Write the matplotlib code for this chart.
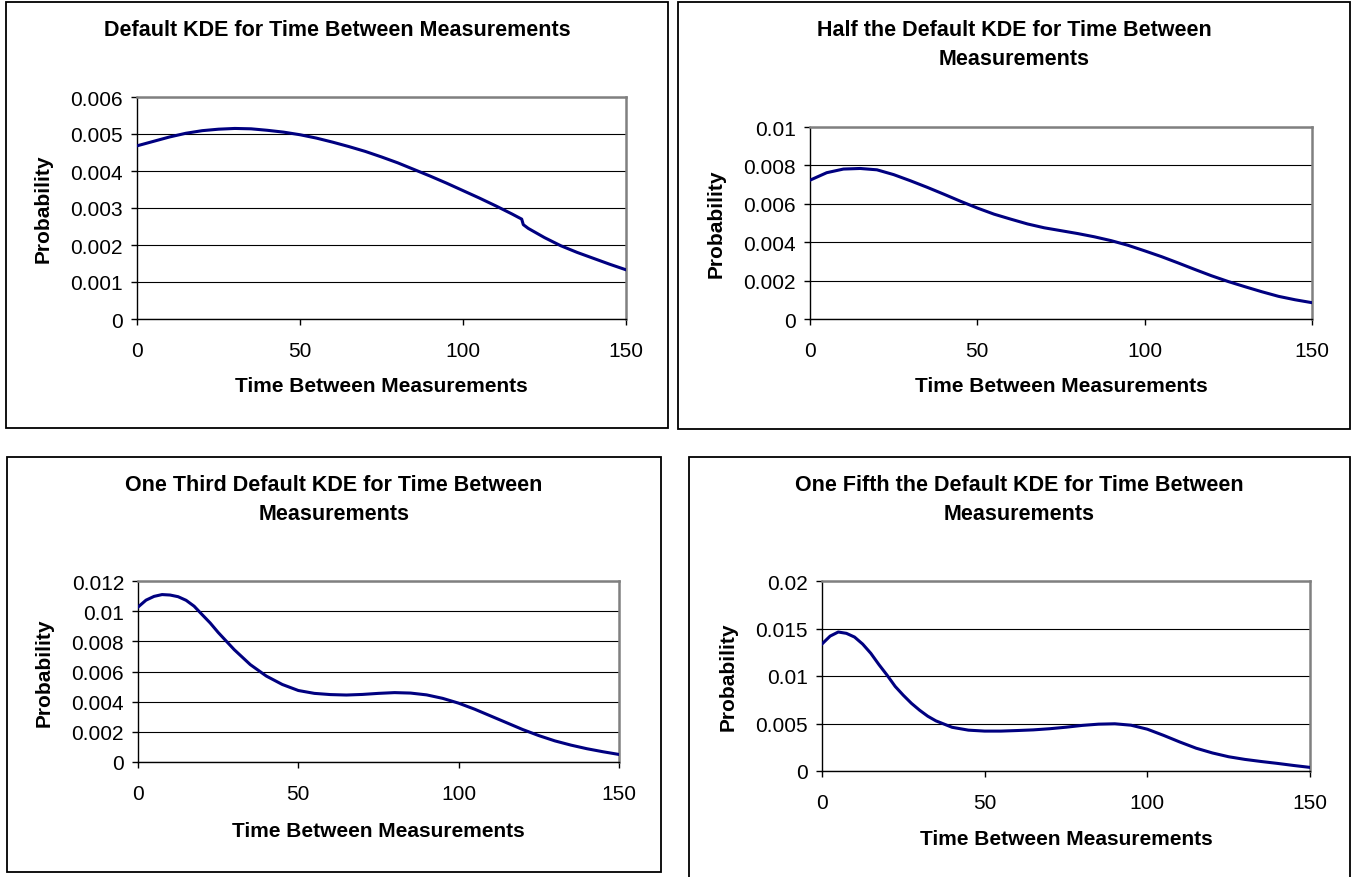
import matplotlib
matplotlib.use('Agg')
import matplotlib.pyplot as plt
from matplotlib.patches import Rectangle

plt.rcParams['font.family'] = ['Liberation Sans', 'DejaVu Sans']

W, H = 1353, 878

# values, probability in units of 1e-3
x_default = [0, 5, 10, 15, 20, 25, 30, 35, 40, 45, 50, 55, 60, 65, 70, 75, 80,
             85, 90, 95, 100, 105, 110, 115, 118, 118.5, 120, 125, 130, 135,
             140, 145, 150]
y_default = [4.68, 4.80, 4.92, 5.02, 5.09, 5.13, 5.15, 5.14, 5.10, 5.05, 4.98,
             4.89, 4.78, 4.66, 4.53, 4.38, 4.22, 4.04, 3.86, 3.67, 3.47, 3.27,
             3.06, 2.84, 2.70, 2.55, 2.45, 2.20, 1.98, 1.80, 1.64, 1.48, 1.33]

x_half = [0, 5, 10, 15, 20, 25, 30, 35, 40, 45, 50, 55, 60, 65, 70, 75, 80,
          85, 90, 95, 100, 105, 110, 115, 120, 125, 130, 135, 140, 145, 150]
y_half = [7.23, 7.62, 7.81, 7.84, 7.77, 7.52, 7.20, 6.86, 6.50, 6.13, 5.78,
          5.46, 5.20, 4.95, 4.75, 4.60, 4.45, 4.28, 4.08, 3.84, 3.55, 3.25,
          2.92, 2.58, 2.25, 1.95, 1.68, 1.42, 1.18, 1.00, 0.85]

x_third = [0, 2.5, 5, 7.5, 10, 12.5, 15, 17.5, 20, 22.5, 25, 30, 35, 40, 45,
           50, 55, 60, 65, 70, 75, 80, 85, 90, 95, 100, 105, 110, 115, 120,
           125, 130, 135, 140, 145, 150]
y_third = [10.27, 10.73, 10.98, 11.1, 11.07, 10.96, 10.72, 10.33, 9.77, 9.22,
           8.59, 7.45, 6.46, 5.70, 5.14, 4.74, 4.55, 4.47, 4.44, 4.48, 4.55,
           4.6, 4.57, 4.45, 4.22, 3.9, 3.5, 3.05, 2.6, 2.15, 1.75, 1.4, 1.12,
           0.88, 0.68, 0.5]

x_fifth = [0, 2.5, 5, 7.5, 10, 12.5, 15, 17.5, 20, 22.5, 25, 27.5, 30, 32.5,
           35, 40, 45, 50, 55, 60, 65, 70, 75, 80, 85, 90, 95, 100, 105, 110,
           115, 120, 125, 130, 135, 140, 145, 150]
y_fifth = [13.37, 14.2, 14.63, 14.49, 14.1, 13.36, 12.39, 11.2, 10.09, 8.9,
           7.97, 7.12, 6.4, 5.77, 5.28, 4.6, 4.3, 4.2, 4.2, 4.26, 4.33, 4.45,
           4.61, 4.8, 4.93, 4.97, 4.82, 4.4, 3.75, 3.05, 2.4, 1.9, 1.5, 1.22,
           1.0, 0.8, 0.58, 0.38]

titles = ['Default KDE for Time Between Measurements',
          'Half the Default KDE for Time Between\nMeasurements',
          'One Third Default KDE for Time Between\nMeasurements',
          'One Fifth the Default KDE for Time Between\nMeasurements']
yticks_list = [[0, 0.001, 0.002, 0.003, 0.004, 0.005, 0.006],
               [0, 0.002, 0.004, 0.006, 0.008, 0.01],
               [0, 0.002, 0.004, 0.006, 0.008, 0.01, 0.012],
               [0, 0.005, 0.01, 0.015, 0.02]]
yticklabels_list = [['0', '0.001', '0.002', '0.003', '0.004', '0.005', '0.006'],
                    ['0', '0.002', '0.004', '0.006', '0.008', '0.01'],
                    ['0', '0.002', '0.004', '0.006', '0.008', '0.01', '0.012'],
                    ['0', '0.005', '0.01', '0.015', '0.02']]
xticks = [0, 50, 100, 150]

series = [(x_default, y_default), (x_half, y_half),
          (x_third, y_third), (x_fifth, y_fifth)]

# layout in pixels: box (l, t, r, b), axes (l, t, r, b)
boxes = [(6, 3, 668, 429), (678, 3, 1350, 430), (7, 458, 661, 873), (689, 458, 1350, 880)]
axes_px = [(137, 98, 626, 320), (810, 128, 1312, 320), (138, 582, 619, 763), (822, 582, 1310, 772)]
title_y = [30, 45, 500, 500]
xlabel_y = [387, 387, 832, 840]

fig = plt.figure(figsize=(W / 100, H / 100), dpi=100)


def fx(px):
    return px / W


def fy(py):
    return 1 - py / H


for i in range(4):
    bl, bt, br, bb = boxes[i]
    fig.patches.append(Rectangle((fx(bl), fy(bb)), fx(br - bl), (bb - bt) / H,
                                 transform=fig.transFigure, fill=False,
                                 edgecolor='black', linewidth=1.3, zorder=0))
    al, at, ar, ab = axes_px[i]
    ax = fig.add_axes([fx(al), fy(ab), fx(ar - al), (ab - at) / H])
    xs, ys = series[i]
    ax.plot(xs, [v / 1000 for v in ys], color='#000080', linewidth=2.2,
            solid_joinstyle='round', zorder=3)
    yt = yticks_list[i]
    ax.set_xlim(0, 150)
    ax.set_ylim(yt[0], yt[-1])
    ax.set_yticks(yt)
    ax.set_yticklabels(yticklabels_list[i])
    ax.set_xticks(xticks)
    ax.set_xticklabels([str(t) for t in xticks])
    ax.tick_params(axis='both', labelsize=15, length=4, width=1, direction='out')
    ax.tick_params(axis='x', pad=12)
    ax.tick_params(axis='y', pad=6)
    ax.grid(True, axis='y', color='black', linewidth=0.8)
    ax.set_axisbelow(True)
    for s in ['top', 'right']:
        ax.spines[s].set_color('#808080')
        ax.spines[s].set_linewidth(1.8)
    for s in ['left', 'bottom']:
        ax.spines[s].set_color('black')
        ax.spines[s].set_linewidth(1.0)
    # title centred on the box
    fig.text(fx((bl + br) / 2), fy(title_y[i]), titles[i], ha='center', va='center',
             fontsize=15.5, fontweight='bold', linespacing=1.55)
    fig.text(fx((al + ar) / 2), fy(xlabel_y[i]), 'Time Between Measurements',
             ha='center', va='center', fontsize=15, fontweight='bold')
    fig.text(fx(al - 94), fy((at + ab) / 2), 'Probability', rotation=90,
             ha='center', va='center', fontsize=15, fontweight='bold')

fig.savefig('out.png', dpi=100)
